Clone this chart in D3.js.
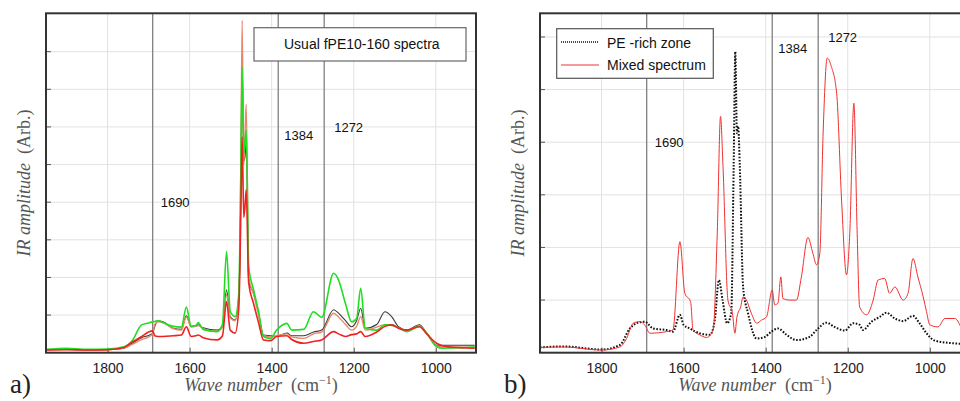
<!doctype html>
<html lang="en">
<head>
  <meta charset="utf-8">
  <title>IR spectra</title>
  <script src="https://cdn.jsdelivr.net/npm/d3@7"></script>
  <style>
    body{margin:0;background:#fff}
    svg{display:block}
    .tick-lbl{font-family:"Liberation Sans",Arial,sans-serif;font-size:14px;fill:#222}
    .mk-lbl{font-family:"Liberation Sans",Arial,sans-serif;font-size:13px;fill:#111}
    .leg{font-family:"Liberation Sans",Arial,sans-serif;font-size:14px;fill:#111}
    .ttl{font-family:"Liberation Serif","DejaVu Serif",serif;font-size:18px;fill:#555}
    .pan{font-family:"Liberation Serif","DejaVu Serif",serif;font-size:27px;fill:#222}
  </style>
</head>
<body>
<div id="chart"></div>
<script>
// shared x ticks and marker positions
var xTicks = [1800, 1600, 1400, 1200, 1000];
var markers = [1690, 1384, 1272];

// panel a : four usual fPE10-160 spectra, on one wave number grid
var wnA = [1950, 1900, 1850, 1800, 1760, 1740, 1717, 1700, 1690, 1685, 1677, 1665, 1640, 1620, 1608, 1596, 1585, 1579, 1567, 1533, 1520, 1510, 1501, 1489, 1480, 1475, 1472, 1468, 1465, 1462, 1456, 1444, 1432, 1420, 1403, 1388, 1363, 1351, 1322, 1298, 1278, 1249, 1237, 1220, 1205, 1193, 1183, 1172, 1144, 1124, 1107, 1091, 1071, 1040, 1022, 998, 982, 940, 905];
var blackA = [0.08, 0.10, 0.07, 0.08, 0.12, 0.25, 0.40, 0.46, 0.52, 0.70, 0.85, 0.82, 0.65, 0.62, 0.98, 0.70, 0.72, 0.74, 0.66, 0.60, 0.70, 1.67, 0.95, 0.87, 1.50, 4.50, 7.70, 5.10, 5.20, 5.60, 1.90, 1.58, 1.05, 0.47, 0.45, 0.43, 0.52, 0.45, 0.45, 0.55, 0.60, 1.14, 1.05, 0.85, 0.69, 0.85, 1.18, 0.65, 0.75, 1.09, 0.95, 0.69, 0.60, 0.74, 0.52, 0.20, 0.20, 0.20, 0.20];
var orangeA = [0.08, 0.10, 0.07, 0.08, 0.12, 0.22, 0.35, 0.42, 0.50, 0.75, 0.82, 0.80, 0.64, 0.60, 0.95, 0.68, 0.70, 0.72, 0.64, 0.57, 0.68, 1.55, 0.92, 0.85, 1.50, 5.00, 8.83, 5.00, 5.80, 6.60, 2.00, 1.55, 1.00, 0.45, 0.42, 0.45, 0.50, 0.42, 0.38, 0.50, 0.55, 1.05, 0.95, 0.75, 0.60, 0.70, 0.96, 0.60, 0.68, 0.74, 0.72, 0.66, 0.58, 0.72, 0.50, 0.18, 0.15, 0.15, 0.14];
var greenA = [0.09, 0.12, 0.09, 0.10, 0.16, 0.32, 0.74, 0.79, 0.82, 0.83, 0.85, 0.80, 0.70, 0.68, 1.21, 0.70, 0.72, 0.80, 0.62, 0.56, 0.75, 2.69, 1.09, 0.96, 1.60, 5.00, 7.60, 5.30, 5.60, 5.92, 2.29, 1.67, 1.10, 0.43, 0.38, 0.60, 0.78, 0.60, 0.62, 1.09, 0.94, 2.11, 1.93, 1.30, 0.82, 0.91, 1.71, 0.65, 0.60, 0.74, 0.74, 0.66, 0.56, 0.71, 0.52, 0.16, 0.12, 0.13, 0.16];
var redA = [0.07, 0.08, 0.07, 0.08, 0.14, 0.28, 0.43, 0.55, 0.58, 0.45, 0.43, 0.43, 0.45, 0.47, 0.69, 0.43, 0.45, 0.47, 0.40, 0.34, 0.45, 1.36, 0.60, 0.52, 1.20, 3.80, 5.74, 3.60, 3.90, 4.33, 1.85, 1.30, 0.80, 0.34, 0.32, 0.43, 0.45, 0.35, 0.25, 0.30, 0.34, 0.56, 0.50, 0.43, 0.48, 0.50, 0.56, 0.43, 0.55, 0.70, 0.74, 0.65, 0.60, 0.69, 0.50, 0.25, 0.18, 0.13, 0.12];

// panel b : PE-rich zone (dotted) and mixed spectrum (red)
var wnPE = [1950, 1893, 1800, 1755, 1731, 1715, 1695, 1674, 1642, 1626, 1609, 1600, 1585, 1561, 1536, 1524, 1514, 1505, 1494, 1484, 1478, 1474, 1470, 1467, 1463, 1455, 1443, 1422, 1402, 1386, 1370, 1349, 1325, 1293, 1276, 1252, 1232, 1207, 1187, 1171, 1163, 1142, 1122, 1106, 1085, 1065, 1041, 1025, 1008, 988, 944, 925];
var pe = [0.10, 0.12, 0.06, 0.15, 0.46, 0.56, 0.59, 0.46, 0.43, 0.40, 0.72, 0.53, 0.46, 0.37, 0.34, 0.62, 1.38, 1.00, 0.56, 0.75, 3.54, 5.72, 4.17, 4.30, 3.54, 1.25, 0.75, 0.27, 0.30, 0.40, 0.46, 0.34, 0.24, 0.30, 0.43, 0.57, 0.49, 0.42, 0.56, 0.53, 0.43, 0.59, 0.68, 0.76, 0.65, 0.60, 0.70, 0.56, 0.37, 0.23, 0.18, 0.17];
var wnMix = [1950, 1893, 1800, 1755, 1739, 1723, 1707, 1695, 1682, 1642, 1626, 1609, 1597, 1583, 1577, 1561, 1544, 1528, 1518, 1510, 1504, 1492, 1481, 1475, 1470, 1461, 1455, 1447, 1435, 1422, 1410, 1398, 1384, 1378, 1370, 1363, 1358, 1341, 1325, 1313, 1297, 1285, 1276, 1268, 1260, 1250, 1240, 1227, 1215, 1203, 1195, 1185, 1177, 1171, 1154, 1138, 1126, 1110, 1098, 1085, 1065, 1053, 1041, 1029, 1016, 1008, 1000, 980, 963, 939, 925];
var mixed = [0.10, 0.11, 0.05, 0.11, 0.27, 0.56, 0.59, 0.53, 0.37, 0.40, 0.43, 2.11, 1.13, 0.97, 0.43, 0.34, 0.29, 0.43, 2.27, 4.49, 3.54, 1.00, 0.75, 0.37, 0.68, 0.87, 1.06, 1.00, 0.75, 0.56, 0.62, 0.68, 1.19, 0.91, 0.94, 1.44, 1.03, 1.00, 1.00, 1.44, 2.19, 1.89, 1.67, 1.89, 4.17, 5.60, 5.44, 4.93, 2.90, 1.48, 2.27, 4.74, 2.27, 0.87, 0.72, 1.00, 1.38, 1.41, 1.13, 1.25, 1.00, 1.13, 1.79, 1.44, 1.06, 0.78, 0.53, 0.49, 0.65, 0.65, 0.50];

var W = 960, H = 401;
var svg = d3.select("#chart").append("svg").attr("width", W).attr("height", H);

function panel(opt) {
  var x = d3.scaleLinear().domain([1950, 902]).range([opt.left, opt.left + 430]);
  var y = d3.scaleLinear().domain([0, opt.ymax]).range([352.7, 13.3]);
  var g = svg.append("g");

  // grid
  g.selectAll("line.vg").data(xTicks).enter().append("line")
    .attr("x1", function (d) { return x(d); }).attr("x2", function (d) { return x(d); })
    .attr("y1", y.range()[1]).attr("y2", y.range()[0])
    .attr("stroke", "#e2e2e2").attr("stroke-width", 1);
  g.selectAll("line.hg").data(d3.range(1, opt.ngrid + 1)).enter().append("line")
    .attr("x1", opt.left).attr("x2", opt.left + 430)
    .attr("y1", function (d) { return y(d); }).attr("y2", function (d) { return y(d); })
    .attr("stroke", "#e2e2e2").attr("stroke-width", 1);
  // small inner ticks on left
  g.selectAll("line.yt").data(d3.range(1, opt.ngrid + 1)).enter().append("line")
    .attr("x1", opt.left).attr("x2", opt.left + 5)
    .attr("y1", function (d) { return y(d); }).attr("y2", function (d) { return y(d); })
    .attr("stroke", "#555").attr("stroke-width", 1);

  // x axis
  var ax = g.append("g").attr("transform", "translate(0,352.7)")
    .call(d3.axisBottom(x).tickValues(xTicks).tickFormat(d3.format("d")).tickSizeInner(-5).tickSizeOuter(0).tickPadding(10));
  ax.select(".domain").remove();
  ax.selectAll(".tick line").attr("stroke", "#555");
  ax.selectAll(".tick text").attr("class", "tick-lbl").attr("font-size", null).attr("font-family", null).attr("fill", null);

  // markers
  g.selectAll("line.mk").data(markers).enter().append("line")
    .attr("x1", function (d) { return x(d); }).attr("x2", function (d) { return x(d); })
    .attr("y1", y.range()[1]).attr("y2", y.range()[0])
    .attr("stroke", "#808080").attr("stroke-width", 1.3);
  g.selectAll("text.mk").data(markers).enter().append("text")
    .attr("class", "mk-lbl")
    .attr("x", function (d, i) { return x(d) + opt.mkDx[i]; })
    .attr("y", function (d, i) { return opt.mkY[i]; })
    .text(function (d) { return d; });

  // curves
  var clip = "clip" + opt.left;
  svg.append("clipPath").attr("id", clip).append("rect")
    .attr("x", opt.left).attr("y", 13.3).attr("width", 430).attr("height", 339.4);
  var line = d3.line().x(function (d) { return x(d[0]); }).y(function (d) { return y(d[1]); }).curve(d3.curveMonotoneX);
  opt.series.forEach(function (s) {
    g.append("path").datum(d3.zip(s.wn, s.v))
      .attr("clip-path", "url(#" + clip + ")")
      .attr("d", line).attr("fill", "none")
      .attr("stroke", s.color).attr("stroke-width", s.width)
      .attr("stroke-dasharray", s.dash || null)
      .attr("stroke-linejoin", "round");
  });

  // frame
  g.append("rect").attr("x", opt.left).attr("y", 13.3).attr("width", 430).attr("height", 339.4)
    .attr("fill", "none").attr("stroke", "#333").attr("stroke-width", 2);

  // x title
  var xt = g.append("text").attr("class", "ttl").attr("x", opt.left + 215).attr("y", 391).attr("text-anchor", "middle");
  xt.append("tspan").attr("font-style", "italic").text("Wave number");
  xt.append("tspan").text("\u2002(cm");
  xt.append("tspan").attr("font-size", "12px").attr("dy", -7).text("\u22121");
  xt.append("tspan").attr("dy", 7).text(")");

  // y title
  var yt = g.append("text").attr("class", "ttl")
    .attr("transform", "translate(" + (opt.left - 16) + ",183) rotate(-90)").attr("text-anchor", "middle");
  yt.append("tspan").attr("font-style", "italic").text("IR amplitude");
  yt.append("tspan").text("\u2002(Arb.)");

  g.append("text").attr("class", "pan").attr("x", opt.left - 36).attr("y", 393).text(opt.tag);
  return { g: g, x: x, y: y };
}

var pa = panel({
  left: 46, ymax: 9.02, ngrid: 8, tag: "a)",
  mkDx: [8, 6, 10], mkY: [207, 140, 132],
  series: [
    { wn: wnA, v: blackA, color: "#3a3a3a", width: 1.1 },
    { wn: wnA, v: orangeA, color: "#e8886a", width: 1.4 },
    { wn: wnA, v: greenA, color: "#22dd22", width: 1.6 },
    { wn: wnA, v: redA, color: "#ee2222", width: 1.6 }
  ]
});
pa.g.append("rect").attr("x", 254).attr("y", 27.7).attr("width", 212).attr("height", 33.3)
  .attr("fill", "#fff").attr("stroke", "#666").attr("stroke-width", 1.2);
pa.g.append("text").attr("class", "leg").attr("x", 284).attr("y", 48.5).text("Usual fPE10-160 spectra");

var pb = panel({
  left: 540, ymax: 6.45, ngrid: 6, tag: "b)",
  mkDx: [8, 6, 10], mkY: [147, 53, 42],
  series: [
    { wn: wnPE, v: pe, color: "#111", width: 2, dash: "1.6,1.6" },
    { wn: wnMix, v: mixed, color: "#f03030", width: 1 }
  ]
});
pb.g.append("rect").attr("x", 556.7).attr("y", 28.7).attr("width", 156.6).attr("height", 49.6)
  .attr("fill", "#fff").attr("stroke", "#555").attr("stroke-width", 1.2);
pb.g.append("line").attr("x1", 561).attr("x2", 599).attr("y1", 42).attr("y2", 42)
  .attr("stroke", "#111").attr("stroke-width", 1.5).attr("stroke-dasharray", "1,1");
pb.g.append("text").attr("class", "leg").attr("x", 607).attr("y", 47.5).text("PE -rich zone");
pb.g.append("line").attr("x1", 561).attr("x2", 599).attr("y1", 65).attr("y2", 65)
  .attr("stroke", "#f03030").attr("stroke-width", 1);
pb.g.append("text").attr("class", "leg").attr("x", 607).attr("y", 70).text("Mixed spectrum");
</script>
</body>
</html>
